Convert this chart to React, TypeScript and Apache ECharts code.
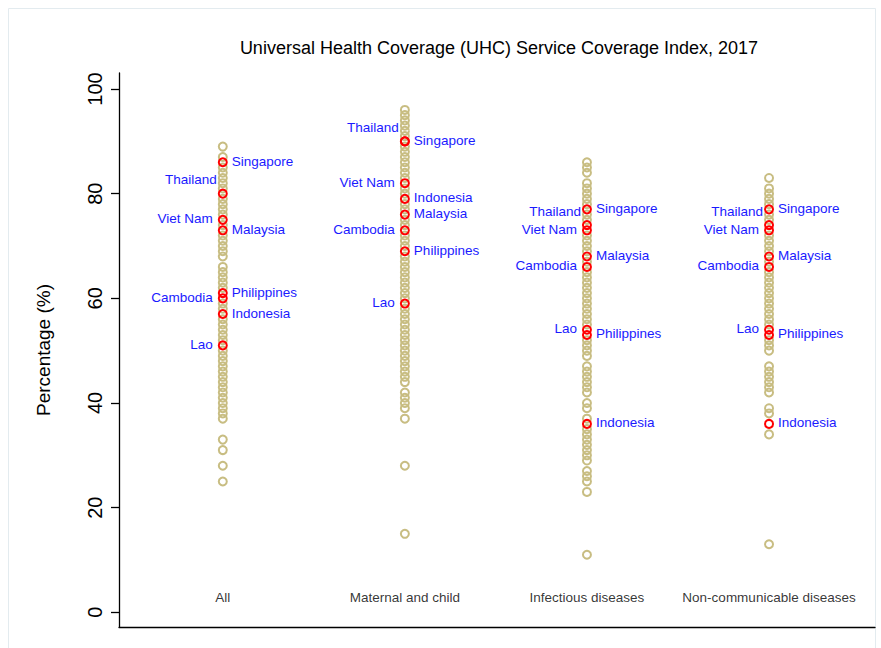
import React, { useEffect, useRef } from "react";
import * as echarts from "echarts";

// ---- data ----
const categories = ["All", "Maternal and child", "Infectious diseases", "Non-communicable diseases"];
const yTicks = [0, 20, 40, 60, 80, 100];

// other countries (khaki hollow circles)
const allOthers = [89, 87, 85, 84, 83, 82, 81, 79, 78, 77, 76, 74, 72, 71, 70, 69, 68, 66, 65, 64, 63, 62, 59, 58, 56, 55, 54, 53, 52, 50, 49, 48, 47, 46, 45, 44, 43, 42, 41, 40, 39, 38, 37, 33, 31, 28, 25];
const maternalOthers = [96, 95, 94, 93, 92, 91, 89, 88, 87, 86, 85, 84, 83, 81, 80, 78, 77, 75, 74, 72, 71, 70, 68, 67, 66, 65, 64, 63, 62, 61, 60, 58, 57, 56, 55, 54, 53, 52, 51, 50, 49, 48, 47, 46, 45, 44, 42, 41, 40, 39, 37, 28, 15];
const infectiousOthers = [86, 85, 84, 82, 81, 80, 79, 78, 76, 75, 72, 71, 70, 69, 67, 65, 64, 63, 62, 61, 60, 59, 58, 57, 56, 55, 52, 51, 50, 49, 47, 46, 45, 44, 43, 42, 40, 39, 37, 35, 34, 33, 32, 31, 30, 29, 27, 26, 25, 23, 11];
const ncdOthers = [83, 81, 80, 79, 78, 76, 75, 72, 71, 70, 69, 67, 65, 64, 63, 62, 61, 60, 59, 58, 57, 56, 55, 52, 51, 50, 47, 46, 45, 44, 43, 42, 39, 38, 34, 13];

// highlighted countries
const countries = ["Cambodia", "Indonesia", "Lao", "Malaysia", "Philippines", "Singapore", "Thailand", "Viet Nam"];
const allValues = [60, 57, 51, 73, 61, 86, 80, 75];
const maternalValues = [73, 79, 59, 76, 69, 90, 90, 82];
const infectiousValues = [66, 36, 54, 68, 53, 77, 74, 73];
const ncdValues = [66, 36, 54, 68, 53, 77, 74, 73];

// label placement (style)
const labelSide: Record<string, string> = {
  Cambodia: "left",
  Indonesia: "right",
  Lao: "left",
  Malaysia: "right",
  Philippines: "right",
  Singapore: "right",
  Thailand: "upleft",
  "Viet Nam": "left",
};

const FONT = "'Liberation Sans', Arial, Helvetica, sans-serif";
const KHAKI = "#c8bd82";
const SYM = 8;

export default function App() {
  const ref = useRef<HTMLDivElement>(null);

  useEffect(() => {
    document.body.style.margin = "0";
    if (!ref.current) return;
    const chart = echarts.init(ref.current, undefined, { renderer: "svg" });

    const othersLists = [allOthers, maternalOthers, infectiousOthers, ncdOthers];
    const highlightLists = [allValues, maternalValues, infectiousValues, ncdValues];

    const otherData: number[][] = [];
    othersLists.forEach((list, i) => list.forEach((v) => otherData.push([i + 1, v])));

    const redData: any[] = [];
    highlightLists.forEach((list, i) =>
      list.forEach((v, j) => {
        const name = countries[j];
        const side = labelSide[name];
        let label: any;
        if (side === "right") {
          label = { position: [SYM + 6, SYM / 2], align: "left", verticalAlign: "middle" };
        } else if (side === "left") {
          label = { position: [-5, SYM / 2], align: "right", verticalAlign: "middle" };
        } else {
          label = { position: [-1, SYM / 2 - 13], align: "right", verticalAlign: "middle" };
        }
        redData.push({ name, value: [i + 1, v], label });
      })
    );

    const catData = categories.map((c, i) => ({ name: c, value: [i + 1, 2.87] }));

    chart.setOption({
      animation: false,
      backgroundColor: "#ffffff",
      title: {
        text: "Universal Health Coverage (UHC) Service Coverage Index, 2017",
        left: 494,
        top: 34,
        textAlign: "center",
        textStyle: { fontFamily: FONT, fontSize: 18, fontWeight: "normal", color: "#000" },
      },
      graphic: [
        {
          type: "rect",
          shape: { x: 8.5, y: 8.5, width: 867, height: 660 },
          style: { fill: "none", stroke: "#e3ebef", lineWidth: 1 },
          silent: true,
          z: -1,
        },
      ],
      grid: { left: 119, right: 6, top: 73, bottom: 21, containLabel: false },
      xAxis: {
        type: "value",
        min: 0.43,
        max: 4.582,
        axisLine: { show: true, onZero: false, lineStyle: { color: "#000", width: 1.3 } },
        axisTick: { show: false },
        axisLabel: { show: false },
        splitLine: { show: false },
      },
      yAxis: {
        type: "value",
        min: -2.81,
        max: 103.06,
        name: "Percentage (%)",
        nameLocation: "middle",
        nameGap: 66,
        nameRotate: 90,
        nameTextStyle: { fontFamily: FONT, fontSize: 19, color: "#000" },
        axisLine: { show: true, onZero: false, lineStyle: { color: "#000", width: 1.3 } },
        axisTick: { show: true, length: 8, customValues: yTicks, lineStyle: { color: "#000", width: 1.3 } },
        axisLabel: {
          customValues: yTicks,
          rotate: 90,
          margin: 14,
          fontFamily: FONT,
          fontSize: 20,
          color: "#000",
        },
        splitLine: { show: false },
      },
      series: [
        {
          type: "scatter",
          data: otherData,
          symbol: "circle",
          symbolSize: SYM,
          itemStyle: { color: "rgba(255,255,255,0)", borderColor: KHAKI, borderWidth: 2, opacity: 1 },
          silent: true,
          z: 2,
        },
        {
          type: "scatter",
          data: redData,
          symbol: "circle",
          symbolSize: SYM,
          itemStyle: { color: "rgba(255,255,255,0)", borderColor: "#ff0000", borderWidth: 2, opacity: 1 },
          label: {
            show: true,
            formatter: "{b}",
            fontFamily: FONT,
            fontSize: 13.5,
            color: "#1a1aff",
          },
          labelLayout: { hideOverlap: false },
          silent: true,
          z: 3,
        },
        {
          type: "scatter",
          data: catData,
          symbolSize: 1,
          itemStyle: { color: "rgba(0,0,0,0)" },
          label: {
            show: true,
            position: "inside",
            formatter: "{b}",
            fontFamily: FONT,
            fontSize: 13.5,
            color: "#000",
          },
          silent: true,
          z: 3,
        },
      ],
    });

    return () => chart.dispose();
  }, []);

  return <div ref={ref} style={{ width: 881, height: 648 }} />;
}
